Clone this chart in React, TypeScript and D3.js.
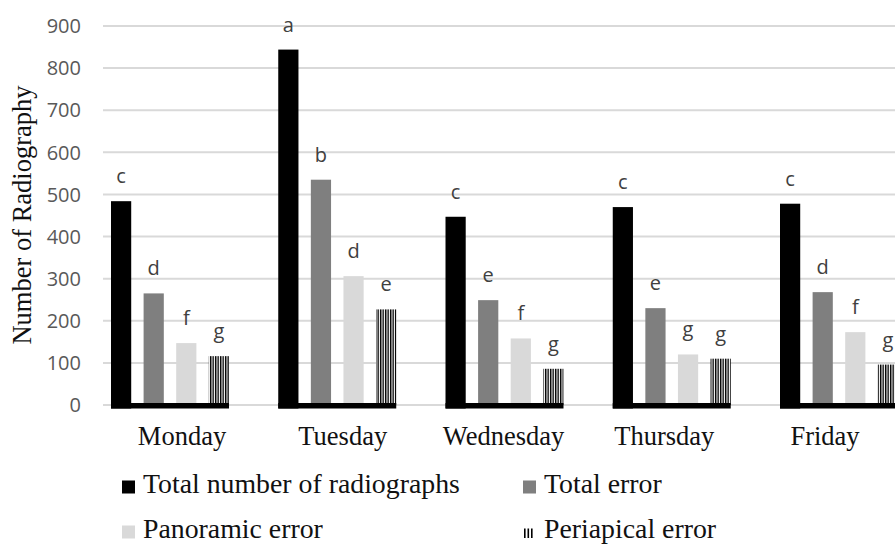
import React from "react";
import * as d3 from "d3";

const days = ["Monday", "Tuesday", "Wednesday", "Thursday", "Friday"];
const seriesNames = [
  "Total number of radiographs",
  "Total error",
  "Panoramic error",
  "Periapical error",
];
const totalRadiographs = [484, 844, 447, 470, 478];
const totalError = [265, 535, 249, 230, 268];
const panoramicError = [147, 306, 158, 120, 173];
const periapicalError = [116, 227, 86, 110, 96];

const lettersTotal = ["c", "a", "c", "c", "c"];
const lettersTotalError = ["d", "b", "e", "e", "d"];
const lettersPanoramic = ["f", "d", "f", "g", "f"];
const lettersPeriapical = ["g", "e", "g", "g", "g"];

const yTicks = [0, 100, 200, 300, 400, 500, 600, 700, 800, 900];
const yTitle = "Number of Radiography";

const W = 895;
const H = 547;

export default function App() {
  const values = [totalRadiographs, totalError, panoramicError, periapicalError];
  const letters = [lettersTotal, lettersTotalError, lettersPanoramic, lettersPeriapical];
  const fills = ["#000000", "#7f7f7f", "#d9d9d9", "url(#stripes)"];

  const y = d3.scaleLinear().domain([0, 900]).range([405, 26]);
  const x0 = d3
    .scaleBand<string>()
    .domain(days)
    .range([111, 898])
    .paddingInner(0.2945)
    .paddingOuter(0);
  const x1 = d3
    .scaleBand<string>()
    .domain(seriesNames)
    .range([0, x0.bandwidth()])
    .paddingInner(0.38);
  const xLabel = d3.scalePoint<string>().domain(days).range([182, 825]);

  const legendItems = [
    { name: seriesNames[0], x: 122, y: 493 },
    { name: seriesNames[1], x: 523, y: 493 },
    { name: seriesNames[2], x: 122, y: 538 },
    { name: seriesNames[3], x: 523, y: 538 },
  ];

  return (
    <svg
      width={W}
      height={H}
      style={{ position: "absolute", left: 0, top: 0, background: "#fff" }}
    >
      <defs>
        <pattern id="stripes" patternUnits="userSpaceOnUse" width={2.5} height={10}>
          <rect x={0} y={0} width={2.5} height={10} fill="#ffffff" />
          <rect x={0} y={0} width={1.4} height={10} fill="#000000" />
        </pattern>
      </defs>
      <rect x={0} y={0} width={W} height={H} fill="#ffffff" />
      {yTicks.map((t) => (
        <line
          key={"g" + t}
          x1={103}
          x2={W}
          y1={y(t)}
          y2={y(t)}
          stroke="#d9d9d9"
          strokeWidth={2}
        />
      ))}
      {yTicks.map((t) => (
        <text
          key={"t" + t}
          x={81}
          y={y(t)}
          dy="0.36em"
          textAnchor="end"
          fontFamily="'Open Sans', sans-serif"
          fontSize={20}
          fill="#595959"
        >
          {t}
        </text>
      ))}
      <text
        transform={`translate(31, 215) rotate(-90)`}
        textAnchor="middle"
        fontFamily="'Liberation Serif', 'Times New Roman', serif"
        fontSize={26.5}
        fill="#111111"
      >
        {yTitle}
      </text>
      {days.map((day, di) => {
        const gx = x0(day) as number;
        return (
          <g key={day}>
            {seriesNames.map((s, si) => {
              const v = values[si][di];
              const bx = gx + (x1(s) as number);
              const top = y(v);
              return (
                <rect
                  key={s}
                  x={bx}
                  y={top}
                  width={x1.bandwidth()}
                  height={y(0) - top + (si === 0 ? 3.5 : 0)}
                  fill={fills[si]}
                />
              );
            })}
            <rect
              x={gx}
              y={y(0) - 2}
              width={x0.bandwidth()}
              height={5.5}
              fill="#000000"
            />
            {seriesNames.map((s, si) => {
              const v = values[si][di];
              const bx = gx + (x1(s) as number) + x1.bandwidth() / 2;
              return (
                <text
                  key={"l" + s}
                  x={bx}
                  y={y(v) - 18}
                  textAnchor="middle"
                  fontFamily="'Open Sans', sans-serif"
                  fontSize={20}
                  fill="#404040"
                >
                  {letters[si][di]}
                </text>
              );
            })}
          </g>
        );
      })}
      {days.map((day) => (
        <text
          key={"x" + day}
          x={xLabel(day)}
          y={445}
          textAnchor="middle"
          fontFamily="'Liberation Serif', 'Times New Roman', serif"
          fontSize={26.5}
          fill="#111111"
        >
          {day}
        </text>
      ))}
      {legendItems.map((it, i) => (
        <g key={"leg" + i}>
          {i < 3 ? (
            <rect x={it.x} y={it.y - 12.5} width={13} height={13} fill={fills[i]} />
          ) : (
            <g>
              {[0, 1, 2].map((k) => (
                <rect
                  key={k}
                  x={it.x + 1 + k * 3.5}
                  y={it.y - 9.5}
                  width={1.6}
                  height={9.5}
                  fill="#000000"
                />
              ))}
            </g>
          )}
          <text
            x={it.x + 21}
            y={it.y}
            fontFamily="'Liberation Serif', 'Times New Roman', serif"
            fontSize={27.8}
            fill="#111111"
          >
            {it.name}
          </text>
        </g>
      ))}
    </svg>
  );
}
